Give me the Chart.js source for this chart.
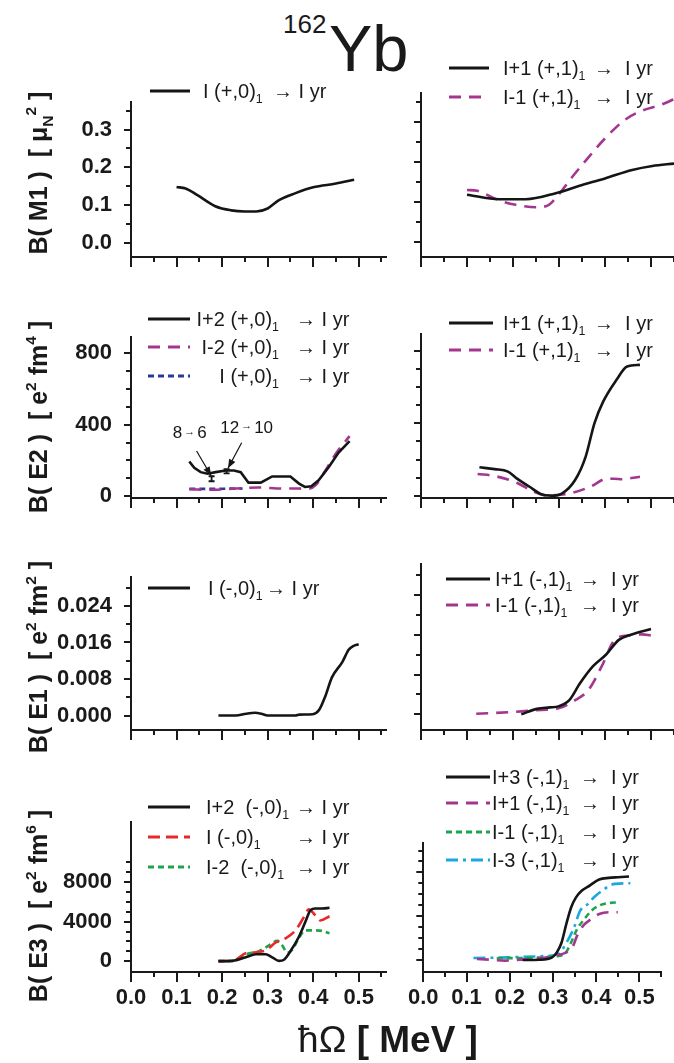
<!DOCTYPE html>
<html><head><meta charset="utf-8">
<script src="https://cdn.jsdelivr.net/npm/chart.js@4.4.1/dist/chart.umd.min.js"></script>
<style>
html,body{margin:0;padding:0;background:#fff}
#wrap{position:relative;width:674px;height:1063px;overflow:hidden;color:#1a1a1a;font-family:"Liberation Sans",Arial,sans-serif}
#wrap canvas{position:absolute}
.ttl{position:absolute;white-space:nowrap;line-height:1}
.yt{position:absolute;white-space:pre;font-weight:bold;font-size:25px;transform:translate(-50%,-50%) rotate(-90deg);line-height:1}
.le{position:absolute;left:0;width:674px;height:24px;line-height:24px;font-size:20px;white-space:pre}
.le span{position:absolute;top:0}
.le svg{position:absolute;top:8px}
sub{font-size:62%;vertical-align:-0.4em;line-height:0}
sup{font-size:62%;vertical-align:0.65em;line-height:0}
</style></head>
<body><div id="wrap"></div>
<script>
// ================= DATA =================
const xTickLabels = ["0.0","0.1","0.2","0.3","0.4","0.5"];
const m1TickLabels = ["0.0","0.1","0.2","0.3"];
const e2TickLabels = ["0","400","800"];
const e1TickLabels = ["0.000","0.008","0.016","0.024"];
const e3TickLabels = ["0","4000","8000"];

// B(M1) left : I (+,0)1 -> I yr
const m1L_x = [0.10,0.12,0.145,0.185,0.22,0.25,0.275,0.30,0.325,0.36,0.40,0.45,0.49];
const m1L_y = [0.148,0.144,0.127,0.097,0.086,0.083,0.083,0.091,0.113,0.131,0.147,0.157,0.167];
// B(M1) right
const m1Rp_x = [0.10,0.17,0.228,0.293,0.343,0.40,0.459,0.503,0.55];
const m1Rp_y = [0.118,0.107,0.107,0.122,0.140,0.159,0.180,0.190,0.196];
const m1Rm_x = [0.10,0.122,0.17,0.206,0.25,0.275,0.296,0.329,0.365,0.40,0.444,0.48,0.524,0.55];
const m1Rm_y = [0.130,0.128,0.104,0.093,0.087,0.091,0.114,0.163,0.213,0.259,0.306,0.328,0.344,0.357];

// B(E2) left
const e2Lp_x = [0.128,0.139,0.153,0.168,0.186,0.208,0.226,0.241,0.258,0.285,0.31,0.35,0.369,0.382,0.396,0.412,0.434,0.456,0.48];
const e2Lp_y = [194,158,134,125,134,143,143,134,75,75,110,110,70,51,55,88,161,244,308];
const e2Lm_x = [0.128,0.179,0.23,0.28,0.332,0.369,0.387,0.405,0.427,0.449,0.48];
const e2Lm_y = [38,35,42,48,42,42,40,60,143,235,336];
const e2L0_x = [0.128,0.16,0.2,0.245];
const e2L0_y = [40,40,41,42];
const e2Exp_x = [0.177,0.21];
const e2Exp_y = [97,139];
const e2Exp_err = [14,12];
// B(E2) right
const e2Rp_x = [0.127,0.16,0.189,0.208,0.236,0.26,0.283,0.307,0.335,0.358,0.377,0.396,0.425,0.448,0.476];
const e2Rp_y = [158,148,134,97,51,11,2,15,88,217,400,519,639,712,721];
const e2Rm_x = [0.123,0.16,0.208,0.245,0.274,0.30,0.33,0.368,0.406,0.434,0.476];
const e2Rm_y = [121,110,73,24,2,6,18,51,97,92,106];

// B(E1) left
const e1L_x = [0.192,0.23,0.253,0.272,0.286,0.30,0.361,0.37,0.399,0.413,0.427,0.441,0.464,0.478,0.488,0.50];
const e1L_y = [0,0,0.0004,0.0006,0.0004,0,0,0.0002,0.0003,0.0012,0.0043,0.0083,0.0117,0.0144,0.0152,0.0156];
// B(E1) right
const e1Rp_x = [0.218,0.252,0.28,0.299,0.322,0.346,0.374,0.402,0.43,0.458,0.50];
const e1Rp_y = [0,0.0011,0.0014,0.0016,0.0028,0.0063,0.0097,0.012,0.015,0.0161,0.0172];
const e1Rm_x = [0.12,0.206,0.262,0.299,0.336,0.364,0.393,0.421,0.449,0.481,0.50];
const e1Rm_y = [0.0001,0.0005,0.0009,0.0012,0.0029,0.0049,0.0097,0.015,0.0159,0.0161,0.0159];

// B(E3) left
const e3Lp2_x = [0.192,0.223,0.252,0.274,0.296,0.31,0.325,0.336,0.35,0.369,0.383,0.394,0.405,0.42,0.436];
const e3Lp2_y = [0,30,390,700,700,390,30,150,1000,2500,4000,5150,5330,5330,5400];
const e3L0_x = [0.192,0.223,0.252,0.274,0.296,0.318,0.339,0.361,0.38,0.39,0.405,0.416,0.436];
const e3L0_y = [0,30,790,900,1090,1900,2300,3100,4480,5240,4640,4120,4550];
const e3Lm2_x = [0.192,0.223,0.252,0.281,0.303,0.321,0.332,0.343,0.354,0.369,0.383,0.401,0.42,0.436];
const e3Lm2_y = [0,30,700,1000,1600,2060,1600,850,1150,2360,3120,3120,3060,2820];
// B(E3) right
const e3Rp3_x = [0.23,0.27,0.298,0.309,0.32,0.331,0.342,0.353,0.367,0.385,0.407,0.429,0.45,0.476];
const e3Rp3_y = [0,20,240,700,1600,3300,4800,5700,6340,6800,7350,7500,7560,7620];
const e3Rp1_x = [0.124,0.153,0.189,0.225,0.269,0.305,0.331,0.345,0.356,0.37,0.389,0.407,0.429,0.45];
const e3Rp1_y = [90,30,-60,30,150,400,700,1160,2220,3140,3750,4200,4360,4360];
const e3Rm1_x = [0.17,0.22,0.27,0.305,0.327,0.342,0.356,0.37,0.389,0.407,0.429,0.45];
const e3Rm1_y = [150,180,230,330,550,1600,2840,3600,4500,4970,5200,5270];
const e3Rm3_x = [0.116,0.196,0.269,0.312,0.334,0.349,0.363,0.381,0.395,0.414,0.443,0.479];
const e3Rm3_y = [180,240,340,550,1770,2990,4500,5120,5730,6340,6950,7010];

// annotation texts for B(E2) left
const e2AnnText = [["8","6"],["12","10"]];
const e2AnnAt   = [[0.129,350],[0.254,381]];
const e2ArrowFrom = [[0.144,253],[0.243,299]];
const e2ArrowTo   = [[0.176,114],[0.213,156]];

// ================= STYLE =================
const BLACK='#151515', PURPLE='#a3378f', BLUE='#2b3a96', RED='#e8282b', GREEN='#1ea44b', CYAN='#1ba8e2';
const DASH_LONG=[12,8], DASH_SHORT=[6,4], DASH_RED=[12,6], DASH_DOT=[12,5,3,5];

Chart.defaults.font.family = "'Liberation Sans', Arial, sans-serif";
Chart.defaults.color = '#1a1a1a';

const wrap = document.getElementById('wrap');
function range(a,b,s){const r=[];for(let i=0;;i++){const v=+(a+i*s).toFixed(6);if(v>b+1e-9)break;r.push(v);}return r;}
function isMult(v,s){const q=v/s;return Math.abs(q-Math.round(q))<1e-6;}
function labelFor(v,labels){const l=labels.find(s=>Math.abs(parseFloat(s)-v)<1e-9);return l===undefined?'':l;}

const tickMarks = {
  id:'tickMarks',
  afterDraw(chart,args,o){
    const ctx=chart.ctx, ca=chart.chartArea, xs=chart.scales.x, ys=chart.scales.y;
    ctx.save(); ctx.strokeStyle='#1a1a1a'; ctx.lineWidth=2;
    xs.ticks.forEach(t=>{const p=Math.round(xs.getPixelForValue(t.value));const m=isMult(t.value,o.xMajor);
      ctx.beginPath();ctx.moveTo(p,ca.bottom);ctx.lineTo(p,ca.bottom+(m?10:5));ctx.stroke();});
    ys.ticks.forEach(t=>{const p=Math.round(ys.getPixelForValue(t.value));const m=isMult(t.value,o.yMajor);
      ctx.beginPath();ctx.moveTo(ca.left,p);ctx.lineTo(ca.left-(m?7:5),p);ctx.stroke();});
    ctx.restore();
  }
};

const e2Annot = {
  id:'e2Annot',
  afterDatasetsDraw(chart){
    const ctx=chart.ctx, xs=chart.scales.x, ys=chart.scales.y;
    ctx.save(); ctx.strokeStyle=BLACK; ctx.fillStyle=BLACK; ctx.lineWidth=1.3;
    e2Exp_x.forEach((x,i)=>{const px=xs.getPixelForValue(x), p1=ys.getPixelForValue(e2Exp_y[i]-e2Exp_err[i]), p2=ys.getPixelForValue(e2Exp_y[i]+e2Exp_err[i]);
      ctx.lineWidth=1.8;ctx.beginPath();ctx.moveTo(px,p1);ctx.lineTo(px,p2);ctx.moveTo(px-3,p1);ctx.lineTo(px+3,p1);ctx.moveTo(px-3,p2);ctx.lineTo(px+3,p2);ctx.stroke();});
    e2ArrowFrom.forEach((f,i)=>{const x1=xs.getPixelForValue(f[0]),y1=ys.getPixelForValue(f[1]),x2=xs.getPixelForValue(e2ArrowTo[i][0]),y2=ys.getPixelForValue(e2ArrowTo[i][1]);
      const a=Math.atan2(y2-y1,x2-x1);ctx.lineWidth=1.2;ctx.beginPath();ctx.moveTo(x1,y1);ctx.lineTo(x2,y2);ctx.stroke();
      ctx.beginPath();ctx.moveTo(x2,y2);ctx.lineTo(x2-9*Math.cos(a)+3.5*Math.sin(a),y2-9*Math.sin(a)-3.5*Math.cos(a));ctx.lineTo(x2-9*Math.cos(a)-3.5*Math.sin(a),y2-9*Math.sin(a)+3.5*Math.cos(a));ctx.closePath();ctx.fill();});
    ctx.textBaseline='middle';
    e2AnnText.forEach((t,i)=>{const cx=xs.getPixelForValue(e2AnnAt[i][0]), cy=ys.getPixelForValue(e2AnnAt[i][1]);
      const big="17px 'Liberation Sans', Arial", small="11px 'Liberation Sans', Arial";
      ctx.font=big;const w1=ctx.measureText(t[0]).width,w3=ctx.measureText(t[1]).width;ctx.font=small;const w2=ctx.measureText('→').width+4;
      let x=cx-(w1+w2+w3)/2;ctx.textAlign='left';ctx.font=big;ctx.fillText(t[0],x,cy);x+=w1+2;ctx.font=small;ctx.fillText('→',x,cy-2);x+=w2-2;ctx.font=big;ctx.fillText(t[1],x,cy);});
    ctx.restore();
  }
};

const COLS = { L:{left:0,width:395,padL:131,padR:9,xmax:0.56}, R:{left:395,width:279,padL:26,padR:0,xmax:0.55} };
const ROWS = [
  {top:70, height:230, T:23, B:43, min:-0.0375, max:0.3725, ticks:range(0,0.35,0.05), major:0.1, labels:m1TickLabels},
  {top:305,height:235, T:29, B:42, min:-11, max:891, ticks:range(0,800,100), major:400, labels:e2TickLabels},
  {top:545,height:240, T:19, B:55, min:-0.00316, max:0.03029, ticks:range(0,0.028,0.004), major:0.008, labels:e1TickLabels},
  {top:790,height:233, T:16, B:51, min:-1096, max:14064, ticks:range(0,10000,1000), major:4000, labels:e3TickLabels}
];

function ds(label,xs,ys,color,dash,tension){
  return {label, data:xs.map((x,i)=>({x,y:ys[i]})), borderColor:color, borderDash:dash||[], borderWidth:2.6,
    pointRadius:0, fill:false, tension:tension===undefined?0.4:tension, cubicInterpolationMode:tension===0?'default':'monotone'};
}

function subify(s){return s.replace(/_1/g,'<sub>1</sub>');}

function legend(chart,spec){
  chart.data.datasets.forEach((d,i)=>{
    const y=spec.ys[i]; if(y===undefined) return;
    const parts=d.label.split('→');
    const row=document.createElement('div'); row.className='le'; row.style.top=(y-12)+'px';
    const dash=(d.borderDash||[]).join(',');
    row.innerHTML=`<svg width="${spec.sw}" height="8" style="left:${spec.sx}px"><line x1="0" y1="4" x2="${spec.sw}" y2="4" stroke="${d.borderColor}" stroke-width="3" ${dash?`stroke-dasharray="${dash}"`:''}/></svg>`+
      (spec.align==='right'?`<span style="right:${674-spec.nx}px">${subify(parts[0].trimEnd())}</span>`:`<span style="left:${spec.nx}px">${subify(parts[0].trimEnd())}</span>`)+
      `<span style="left:${spec.ax}px">→${parts[1]}</span>`;
    wrap.appendChild(row);
  });
}

function panel(col,rowIdx,datasets,opt){
  const c=COLS[col], r=ROWS[rowIdx];
  const T = opt.T!==undefined?opt.T:r.T;
  const max = opt.max!==undefined?opt.max:r.max;
  const cv=document.createElement('canvas'); cv.width=c.width; cv.height=r.height;
  cv.style.left=c.left+'px'; cv.style.top=r.top+'px'; cv.style.width=c.width+'px'; cv.style.height=r.height+'px';
  wrap.appendChild(cv);
  const showX = rowIdx===3, showY = col==='L';
  const plugins=[tickMarks]; if(opt.annot) plugins.push(opt.annot);
  const chart=new Chart(cv,{
    type:'line',
    data:{datasets},
    options:{
      responsive:false, animation:false, devicePixelRatio:1, events:[],
      layout:{padding:{top:T,right:c.padR,left:0,bottom:0}},
      plugins:{legend:{display:false},tooltip:{enabled:false},tickMarks:{xMajor:0.1,yMajor:r.major}},
      scales:{
        x:{type:'linear',min:0,max:c.xmax,
          afterFit:s=>{s.height=r.B;},
          afterBuildTicks:s=>{s.ticks=range(0,0.55,0.05).map(v=>({value:v}));},
          grid:{display:false,drawTicks:false}, border:{display:true,color:'#1a1a1a',width:2},
          ticks:{display:showX,autoSkip:false,maxRotation:0,padding:13,color:'#1a1a1a',font:{size:22,weight:'bold'},callback:v=>labelFor(v,xTickLabels)}},
        y:{type:'linear',min:r.min,max:max,
          afterFit:s=>{s.width=c.padL;},
          afterBuildTicks:s=>{s.ticks=r.ticks.map(v=>({value:v}));},
          grid:{display:false,drawTicks:false}, border:{display:true,color:'#1a1a1a',width:2},
          ticks:{display:showY,autoSkip:false,padding:19,color:'#1a1a1a',font:{size:22,weight:'bold'},callback:v=>labelFor(v,r.labels)}}
      }
    },
    plugins
  });
  if(opt.legend) legend(chart,opt.legend);
  return chart;
}

// Row 1: B(M1)
panel('L',0,[ds('I (+,0)_1 → I yr',m1L_x,m1L_y,BLACK)],
  {legend:{ys:[91],sx:150,sw:40,nx:203,ax:273}});
panel('R',0,[ds('I+1 (+,1)_1 →  I yr',m1Rp_x,m1Rp_y,BLACK), ds('I-1 (+,1)_1 →  I yr',m1Rm_x,m1Rm_y,PURPLE,DASH_LONG)],
  {legend:{ys:[68,97],sx:449,sw:40,nx:503,ax:594}});
// Row 2: B(E2)
panel('L',1,[ds('I+2 (+,0)_1 → I yr',e2Lp_x,e2Lp_y,BLACK,null,0), ds('I-2 (+,0)_1 → I yr',e2Lm_x,e2Lm_y,PURPLE,DASH_LONG,0.3), ds('I (+,0)_1 → I yr',e2L0_x,e2L0_y,BLUE,DASH_SHORT,0)],
  {legend:{ys:[319,347,376],sx:148,sw:42,nx:279,align:'right',ax:296}, annot:e2Annot});
panel('R',1,[ds('I+1 (+,1)_1 →  I yr',e2Rp_x,e2Rp_y,BLACK), ds('I-1 (+,1)_1 →  I yr',e2Rm_x,e2Rm_y,PURPLE,DASH_LONG)],
  {legend:{ys:[323,350],sx:449,sw:44,nx:503,ax:594}});
// Row 3: B(E1)
panel('L',2,[ds('I (-,0)_1 → I yr',e1L_x,e1L_y,BLACK)],
  {legend:{ys:[588],sx:148,sw:42,nx:208,ax:266}});
panel('R',2,[ds('I+1 (-,1)_1 →  I yr',e1Rp_x,e1Rp_y,BLACK), ds('I-1 (-,1)_1 →  I yr',e1Rm_x,e1Rm_y,PURPLE,DASH_LONG)],
  {legend:{ys:[579,605],sx:446,sw:44,nx:495,ax:580}});
// Row 4: B(E3)
panel('L',3,[ds('I+2  (-,0)_1 → I yr',e3Lp2_x,e3Lp2_y,BLACK), ds('I (-,0)_1 → I yr',e3L0_x,e3L0_y,RED,DASH_RED), ds('I-2  (-,0)_1 → I yr',e3Lm2_x,e3Lm2_y,GREEN,DASH_SHORT)],
  {legend:{ys:[807,837,867],sx:148,sw:42,nx:206,ax:296}});
panel('R',3,[ds('I+3 (-,1)_1 →  I yr',e3Rp3_x,e3Rp3_y,BLACK), ds('I+1 (-,1)_1 →  I yr',e3Rp1_x,e3Rp1_y,PURPLE,DASH_LONG), ds('I-1 (-,1)_1 →  I yr',e3Rm1_x,e3Rm1_y,GREEN,DASH_SHORT), ds('I-3 (-,1)_1 →  I yr',e3Rm3_x,e3Rm3_y,CYAN,DASH_DOT)],
  {T:53, max:10685, legend:{ys:[777,803,832,860],sx:446,sw:44,nx:492,ax:580}});

// ================= TEXT =================
function addHTML(html){wrap.insertAdjacentHTML('beforeend',html);}
addHTML('<div class="ttl" style="left:283px;top:11px;font-size:26px">162</div>');
addHTML('<div class="ttl" style="left:329px;top:16px;font-size:65px">Yb</div>');
const yTitles=[['B( M1 )  [ μ<sub>N</sub><sup>2</sup> ]',173],['B( E2 )  [ e<sup>2</sup> fm<sup>4</sup> ]',417],['B( E1 )  [ e<sup>2</sup> fm<sup>2</sup> ]',657],['B( E3 )  [ e<sup>2</sup> fm<sup>6</sup> ]',906]];
yTitles.forEach(t=>addHTML(`<div class="yt" style="left:38px;top:${t[1]}px">${t[0]}</div>`));
addHTML('<div class="ttl" style="left:388px;top:1021px;transform:translateX(-50%);font-size:37px"><span>ħΩ</span> <b>[ MeV ]</b></div>');
</script>
</body></html>
